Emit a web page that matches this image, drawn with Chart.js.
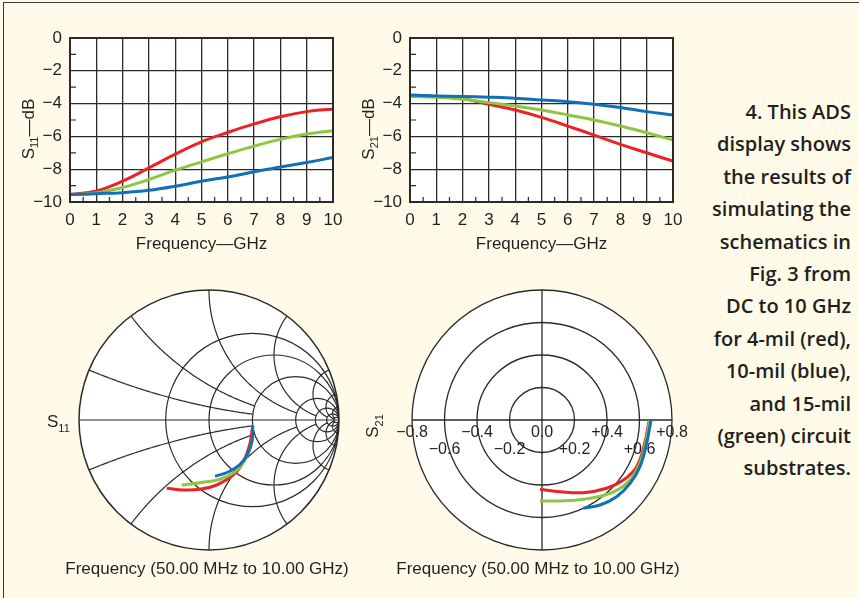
<!DOCTYPE html>
<html><head><meta charset="utf-8">
<script src="https://cdn.jsdelivr.net/npm/chart.js@4.4.1/dist/chart.umd.min.js"></script>
<style>
html,body{margin:0;padding:0;background:#fffbe8;}
body{width:859px;height:598px;position:relative;overflow:hidden;font-family:"Liberation Sans",Arial,Helvetica,sans-serif;color:#231f20;}
.frame{position:absolute;left:3px;top:2px;width:900px;height:700px;border-top:1.5px solid #3a3a3a;border-left:1.5px solid #3a3a3a;}
canvas{position:absolute;}
.cap{position:absolute;font-size:17px;line-height:1;white-space:nowrap;transform:translate(-50%,-50%);}
.lbl{position:absolute;font-size:17px;line-height:1;white-space:nowrap;}
.sub{font-size:11px;vertical-align:-5px;}
.note{position:absolute;right:8px;top:96px;text-align:right;font-family:"Open Sans",sans-serif;font-weight:600;font-size:20px;line-height:32.4px;color:#231f20;white-space:nowrap;}
</style>
</head><body>
<div class="frame"></div>
<canvas id="c11" width="360" height="270" style="left:0;top:0"></canvas>
<canvas id="c21" width="360" height="270" style="left:340px;top:0"></canvas>
<canvas id="smith" width="280" height="280" style="left:69px;top:280px"></canvas>
<canvas id="polar" width="340" height="280" style="left:372px;top:280px"></canvas>
<div class="lbl" style="left:47px;top:413px">S<span class="sub">11</span></div>
<div class="lbl" style="left:374px;top:426px;transform:translate(-50%,-50%) rotate(-90deg)">S<span class="sub">21</span></div>
<div class="cap" style="left:207px;top:568px">Frequency (50.00 MHz to 10.00 GHz)</div>
<div class="cap" style="left:538px;top:568px">Frequency (50.00 MHz to 10.00 GHz)</div>
<div class="note">4. This ADS<br>display shows<br>the results of<br>simulating the<br>schematics in<br>Fig. 3 from<br>DC to 10 GHz<br>for 4-mil (red),<br>10-mil (blue),<br>and 15-mil<br>(green) circuit<br>substrates.</div>
<script>
// ---------- data ----------
const freqGHz   = [0, 1, 2, 3, 4, 5, 6, 7, 8, 9, 10];
const s11Red    = [-9.55, -9.33, -8.73, -7.92, -7.08, -6.33, -5.76, -5.24, -4.80, -4.49, -4.33];
const s11Green  = [-9.55, -9.45, -9.12, -8.63, -8.06, -7.55, -7.06, -6.59, -6.18, -5.86, -5.65];
const s11Blue   = [-9.55, -9.49, -9.43, -9.29, -9.04, -8.73, -8.47, -8.16, -7.86, -7.59, -7.29];
const s21Red    = [-3.51, -3.57, -3.71, -4.04, -4.39, -4.84, -5.37, -5.92, -6.49, -7.00, -7.51];
const s21Green  = [-3.57, -3.61, -3.73, -3.94, -4.14, -4.39, -4.69, -5.00, -5.37, -5.78, -6.22];
const s21Blue   = [-3.47, -3.53, -3.57, -3.61, -3.67, -3.78, -3.88, -4.04, -4.24, -4.49, -4.69];
const dbTicks   = [0, -2, -4, -6, -8, -10];
const freqTicks = [0, 1, 2, 3, 4, 5, 6, 7, 8, 9, 10];

// S11 reflection coefficient (real / imaginary), 50 MHz -> 10 GHz
const smithRedRe   = [0.336, 0.315, 0.264, 0.187, 0.059, -0.069, -0.197, -0.325];
const smithRedIm   = [-0.044, -0.179, -0.321, -0.423, -0.500, -0.533, -0.538, -0.525];
const smithGreenRe = [0.336, 0.328, 0.277, 0.200, 0.085, -0.069, -0.210];
const smithGreenIm = [-0.044, -0.179, -0.308, -0.398, -0.456, -0.482, -0.500];
const smithBlueRe  = [0.336, 0.332, 0.297, 0.235, 0.144, 0.046];
const smithBlueIm  = [-0.044, -0.154, -0.262, -0.345, -0.402, -0.432];

// S21 transmission coefficient (real / imaginary), 50 MHz -> 10 GHz
const polarRedRe   = [0.658, 0.632, 0.583, 0.501, 0.398, 0.254, 0.111, -0.012];
const polarRedIm   = [-0.010, -0.143, -0.287, -0.369, -0.420, -0.447, -0.441, -0.426];
const polarGreenRe = [0.662, 0.638, 0.593, 0.521, 0.418, 0.254, 0.111, -0.012];
const polarGreenIm = [-0.005, -0.143, -0.287, -0.390, -0.451, -0.488, -0.498, -0.498];
const polarBlueRe  = [0.671, 0.644, 0.603, 0.542, 0.459, 0.357, 0.254];
const polarBlueIm  = [0.000, -0.144, -0.287, -0.390, -0.472, -0.523, -0.543];
const polarTickValues = [-0.8, -0.6, -0.4, -0.2, 0.0, 0.2, 0.4, 0.6, 0.8];
const polarTickLabels = ['\u22120.8', '\u22120.6', '\u22120.4', '\u22120.2', '0.0', '+0.2', '+0.4', '+0.6', '+0.8'];

// Smith chart grid values
const smithResistances = [0.5, 1, 2, 5, 10, 20, 50];
const smithReactances  = [0.2, 0.5, 1, 2, 5, 10, 20];
const smithReactanceLimit = [2, 2, 5, 10, 20, 50, 50];

// ---------- styling ----------
const COL = {red: '#ec2227', green: '#8dc63f', blue: '#1170b8', ink: '#231f20', grid: '#2a2a2a'};
const FONT = '"Liberation Sans", Arial, Helvetica, sans-serif';
Chart.defaults.font.family = FONT;
Chart.defaults.color = COL.ink;

const pairs = (xs, ys) => xs.map((x, i) => ({x: x, y: ys[i]}));
const minus = v => (v < 0 ? '\u2212' + Math.abs(v) : String(v));

// ---------- rectangular dB plots ----------
const rectPlugin = {
  id: 'rectDecor',
  beforeDraw(chart) {
    const {ctx, chartArea: a} = chart;
    ctx.save();
    ctx.fillStyle = '#ffffff';
    ctx.fillRect(a.left, a.top, a.right - a.left, a.bottom - a.top);
    ctx.restore();
  },
  afterDatasetsDraw(chart, args, opts) {
    const {ctx, chartArea: a, scales: {x, y}} = chart;
    ctx.save();
    ctx.strokeStyle = COL.grid;
    ctx.lineWidth = 1.2;
    ctx.beginPath();
    for (let i = 0; i < dbTicks.length - 1; i++) {
      const py = y.getPixelForValue((dbTicks[i] + dbTicks[i + 1]) / 2);
      ctx.moveTo(a.left, py); ctx.lineTo(a.left + 6, py);
    }
    for (let i = 0; i < freqTicks.length - 1; i++) {
      const px = x.getPixelForValue((freqTicks[i] + freqTicks[i + 1]) / 2);
      ctx.moveTo(px, a.bottom); ctx.lineTo(px, a.bottom - 5);
    }
    ctx.stroke();
    ctx.lineWidth = 2;
    ctx.strokeRect(a.left, a.top, a.right - a.left, a.bottom - a.top);
    // y-axis title with subscript
    ctx.fillStyle = COL.ink;
    ctx.translate(28, 129);
    ctx.rotate(-Math.PI / 2);
    const big = '17px ' + FONT, small = '11px ' + FONT;
    ctx.font = big; const wS = ctx.measureText('S').width; const wT = ctx.measureText('\u2014dB').width;
    ctx.font = small; const wN = ctx.measureText(opts.sub).width;
    let sx = -(wS + wN + wT) / 2;
    ctx.textBaseline = 'alphabetic';
    ctx.font = big; ctx.fillText('S', sx, 6); sx += wS;
    ctx.font = small; ctx.fillText(opts.sub, sx, 10); sx += wN;
    ctx.font = big; ctx.fillText('\u2014dB', sx, 6);
    ctx.restore();
  }
};

function rectChart(id, red, green, blue, sub) {
  const ds = (data, color) => ({data: pairs(freqGHz, data), borderColor: color, borderWidth: 3,
    pointRadius: 0, tension: 0.4, fill: false, showLine: true});
  return new Chart(document.getElementById(id), {
    type: 'scatter',
    // first dataset is painted on top
    data: {datasets: [ds(blue, COL.blue), ds(green, COL.green), ds(red, COL.red)]},
    options: {
      responsive: false, animation: false, events: [],
      layout: {padding: {left: 0, top: 38, right: 27, bottom: 0}},
      plugins: {legend: {display: false}, tooltip: {enabled: false}, rectDecor: {sub: sub}},
      scales: {
        x: {type: 'linear', min: 0, max: 10,
            afterFit: s => { s.height = 68; },
            afterBuildTicks: s => { s.ticks = freqTicks.map(v => ({value: v})); },
            ticks: {padding: 8, font: {size: 17}, color: COL.ink, maxRotation: 0, callback: v => String(v)},
            grid: {color: COL.grid, lineWidth: 1.3, drawTicks: false},
            border: {display: false},
            title: {display: true, text: 'Frequency\u2014GHz', font: {size: 17}, color: COL.ink, padding: {top: 0, bottom: 15}}},
        y: {type: 'linear', min: -10, max: 0,
            afterFit: s => { s.width = 70; },
            afterBuildTicks: s => { s.ticks = dbTicks.map(v => ({value: v})); },
            ticks: {padding: 8, font: {size: 17}, color: COL.ink, callback: v => minus(v)},
            grid: {color: COL.grid, lineWidth: 1.3, drawTicks: false},
            border: {display: false}}
      }
    },
    plugins: [rectPlugin]
  });
}
rectChart('c11', s11Red, s11Green, s11Blue, '11');
rectChart('c21', s21Red, s21Green, s21Blue, '21');

// ---------- Smith chart ----------
const smithPlugin = {
  id: 'smithGrid',
  beforeDatasetsDraw(chart) {
    const {ctx, scales: {x, y}} = chart;
    const P = (gx, gy) => [x.getPixelForValue(gx), y.getPixelForValue(gy)];
    const [cx, cy] = P(0, 0);
    const R = x.getPixelForValue(1) - cx;
    ctx.save();
    ctx.beginPath(); ctx.arc(cx, cy, R, 0, 2 * Math.PI);
    ctx.fillStyle = '#ffffff'; ctx.fill();
    ctx.clip();
    ctx.strokeStyle = COL.grid; ctx.lineWidth = 1.2;
    smithResistances.forEach(r => {
      const [px] = P(r / (1 + r), 0);
      ctx.beginPath(); ctx.arc(px, cy, R / (1 + r), 0, 2 * Math.PI); ctx.stroke();
    });
    smithReactances.forEach((X, k) => {
      const rmax = smithReactanceLimit[k];
      [1, -1].forEach(sg => {
        const Xs = X * sg;
        ctx.beginPath();
        for (let i = 0; i <= 120; i++) {
          const t = i / 120;
          const r = rmax * t * t;
          const D = (r + 1) * (r + 1) + Xs * Xs;
          const gr = (r * r - 1 + Xs * Xs) / D, gi = 2 * Xs / D;
          const [px, py] = P(gr, gi);
          if (i === 0) ctx.moveTo(px, py); else ctx.lineTo(px, py);
        }
        ctx.stroke();
      });
    });
    ctx.beginPath(); ctx.moveTo(cx - R, cy); ctx.lineTo(cx + R, cy); ctx.stroke();
    ctx.restore();
    ctx.save();
    ctx.strokeStyle = COL.grid; ctx.lineWidth = 1.5;
    ctx.beginPath(); ctx.arc(cx, cy, R, 0, 2 * Math.PI); ctx.stroke();
    ctx.restore();
  }
};

// ---------- polar chart ----------
const polarPlugin = {
  id: 'polarGrid',
  beforeDatasetsDraw(chart) {
    const {ctx, scales: {x, y}} = chart;
    const cx = x.getPixelForValue(0), cy = y.getPixelForValue(0);
    const R = x.getPixelForValue(0.8) - cx;
    ctx.save();
    ctx.beginPath(); ctx.arc(cx, cy, R, 0, 2 * Math.PI);
    ctx.fillStyle = '#ffffff'; ctx.fill();
    ctx.strokeStyle = COL.grid; ctx.lineWidth = 1.3;
    [0.2, 0.4, 0.6, 0.8].forEach(v => {
      ctx.beginPath(); ctx.arc(cx, cy, x.getPixelForValue(v) - cx, 0, 2 * Math.PI); ctx.stroke();
    });
    ctx.beginPath();
    ctx.moveTo(cx - R, cy); ctx.lineTo(cx + R, cy);
    ctx.moveTo(cx, cy - R); ctx.lineTo(cx, cy + R);
    ctx.stroke();
    ctx.fillStyle = COL.ink; ctx.font = '16px ' + FONT;
    ctx.textAlign = 'center'; ctx.textBaseline = 'middle';
    polarTickValues.forEach((v, i) => {
      ctx.fillText(polarTickLabels[i], x.getPixelForValue(v), cy + (i % 2 === 0 ? 13 : 30));
    });
    ctx.restore();
  }
};

function complexChart(id, lim, padX, series, plugin) {
  return new Chart(document.getElementById(id), {
    type: 'scatter',
    data: {datasets: series.map(s => ({data: pairs(s[0], s[1]), borderColor: s[2], borderWidth: 3,
      pointRadius: 0, showLine: true, tension: 0.4, fill: false}))},
    options: {
      responsive: false, animation: false, events: [],
      layout: {padding: {left: padX, right: padX, top: 10, bottom: 10}},
      plugins: {legend: {display: false}, tooltip: {enabled: false}},
      scales: {
        x: {type: 'linear', min: -lim, max: lim, display: false},
        y: {type: 'linear', min: -lim, max: lim, display: false}
      }
    },
    plugins: [plugin]
  });
}
// first dataset is painted on top: blue, green, red
complexChart('smith', 1, 10, [
  [smithBlueRe, smithBlueIm, COL.blue],
  [smithGreenRe, smithGreenIm, COL.green],
  [smithRedRe, smithRedIm, COL.red]
], smithPlugin);
complexChart('polar', 0.8, 40, [
  [polarBlueRe, polarBlueIm, COL.blue],
  [polarGreenRe, polarGreenIm, COL.green],
  [polarRedRe, polarRedIm, COL.red]
], polarPlugin);
</script>
</body></html>
